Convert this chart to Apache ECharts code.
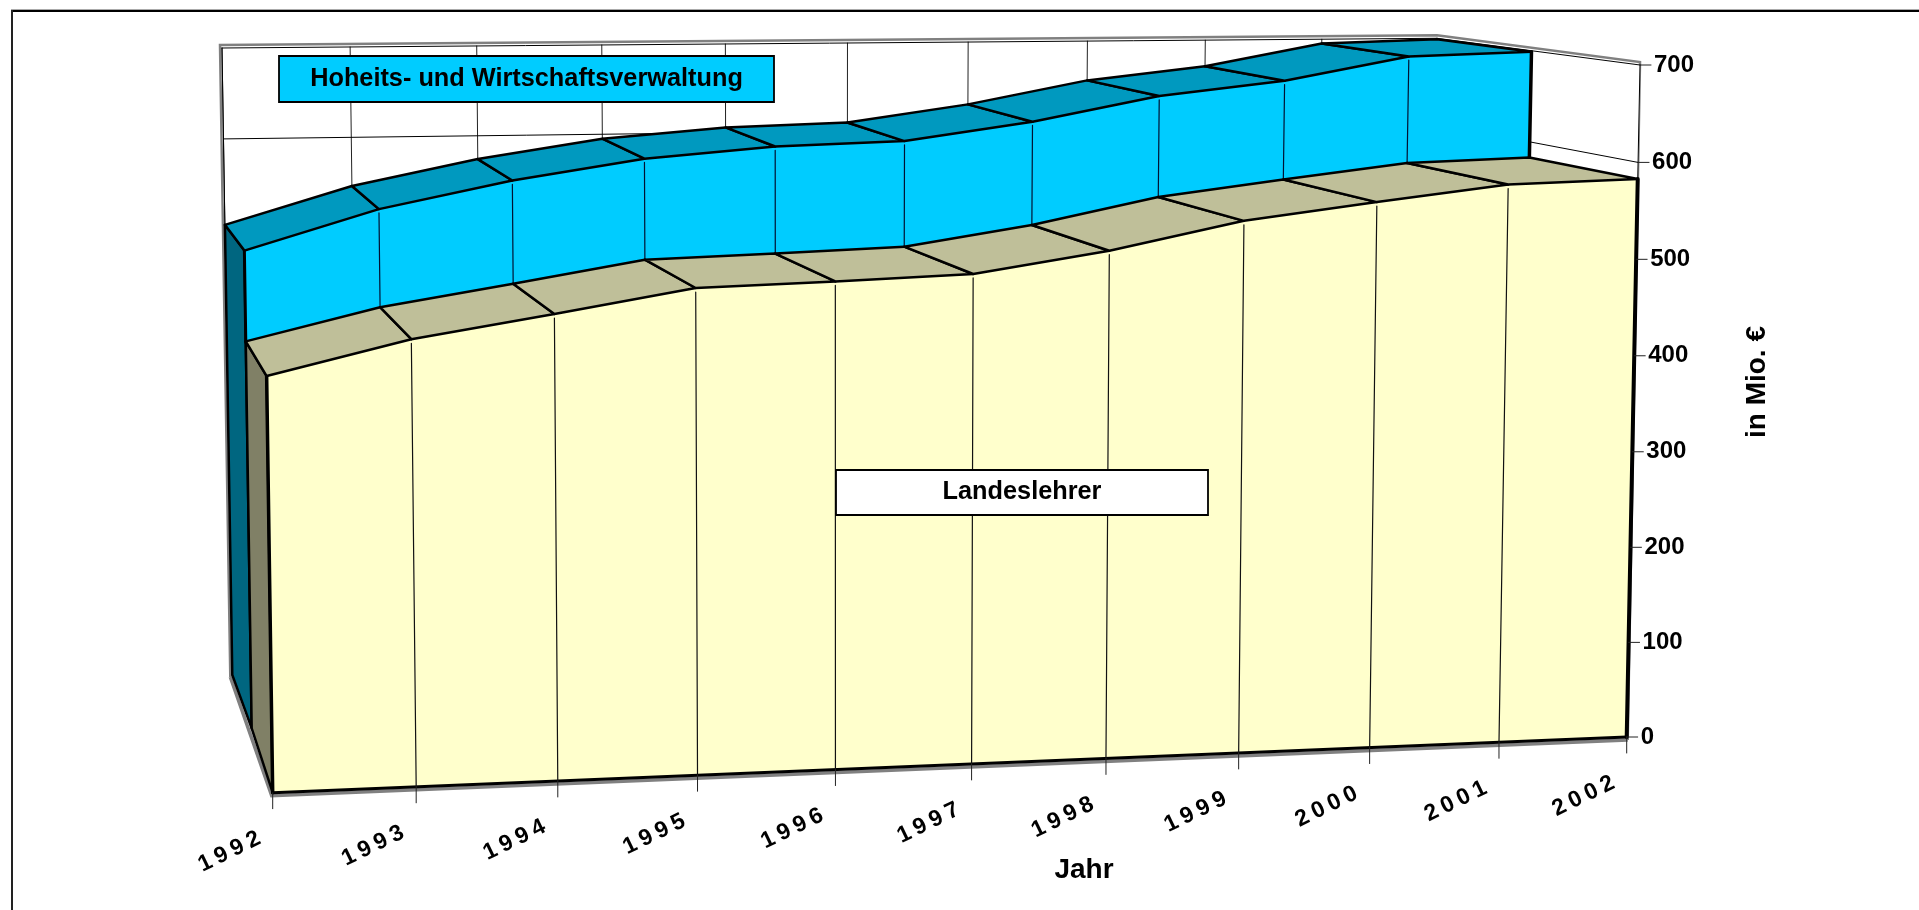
<!DOCTYPE html>
<html><head><meta charset="utf-8">
<style>html,body{margin:0;padding:0;background:#fff}#c{width:1919px;height:910px}</style>
<script src="https://cdn.jsdelivr.net/npm/echarts@6/dist/echarts.min.js"></script>
</head><body><div id="c"></div>
<script>
const years = ['1992','1993','1994','1995','1996','1997','1998','1999','2000','2001','2002'];
const landeslehrer = [410,443,465,488,492,497,518,546,563,579,583];
const hoheits = [95,103,109,107,114,113,111,109,107,116,116];
const valueTicks = [0,100,200,300,400,500,600,700];
const seriesNames = ['Landeslehrer','Hoheits- und Wirtschaftsverwaltung'];
const axisNames = ['Jahr','in Mio. €'];

// perspective of the three depth planes: corners BL, BR, TR, TL of the plot box
const planes = [
  [[272.7,792.7],[1626.7,737],[1640,65],[262.3,76]],
  [[251.7,728.3],[1519,680.6],[1531.5,50.8],[241.5,62.7]],
  [[232.3,675],[1427,630],[1437,38.3],[222,48]]
].map(homography);
function homography(q){
  const [p0,p1,p2,p3]=q;
  const dx1=p1[0]-p2[0],dx2=p3[0]-p2[0],sx=p0[0]-p1[0]+p2[0]-p3[0];
  const dy1=p1[1]-p2[1],dy2=p3[1]-p2[1],sy=p0[1]-p1[1]+p2[1]-p3[1];
  const den=dx1*dy2-dx2*dy1;
  const g=(sx*dy2-dx2*sy)/den,h=(dx1*sy-sx*dy1)/den;
  const a=p1[0]-p0[0]+g*p1[0],b=p3[0]-p0[0]+h*p3[0],c=p0[0];
  const d=p1[1]-p0[1]+g*p1[1],e=p3[1]-p0[1]+h*p3[1],f=p0[1];
  return (u,v)=>{const w=g*u+h*v+1;return [(a*u+b*v+c)/w,(d*u+e*v+f)/w];};
}
// the wide labels of the year axis keep their text; only the glyph spacing widens
const nativeFill = CanvasRenderingContext2D.prototype.fillText;
CanvasRenderingContext2D.prototype.fillText = function(t,x,y,m){
  this.letterSpacing = /^\d{4}$/.test(t) ? '5px' : '0px';
  return m===undefined ? nativeFill.call(this,t,x,y) : nativeFill.call(this,t,x,y,m);
};

const FONT = '"Liberation Sans", Arial, sans-serif';
const C = {blue:'#00CCFF',blueTop:'#0099BF',blueSide:'#006680',yel:'#FFFFCC',yelTop:'#BFBF99',yelSide:'#808066',grey:'#808080'};

function projector(params,api){
  const r=params.coordSys;
  return (i,val,depth)=>{
    const p=api.coord([i,val]);
    return planes[depth]((p[0]-r.x)/r.width,(r.y+r.height-p[1])/r.height);
  };
}
const line=(a,b,w,col)=>({type:'line',shape:{x1:a[0],y1:a[1],x2:b[0],y2:b[1]},style:{stroke:col||'#000',lineWidth:w,lineCap:'round'},silent:true});
const poly=(pts,fill,w)=>({type:'polygon',shape:{points:pts},style:w?{fill,stroke:'#000',lineWidth:w,lineJoin:'round'}:{fill,stroke:fill,lineWidth:.5},silent:true});
const txt=(x,y,t,size,o)=>Object.assign({type:'text',x,y,style:{text:t,font:'bold '+size+'px '+FONT,fill:'#000',align:'center',verticalAlign:'middle'},silent:true},o||{});

function renderWall(params,api){
  const P=projector(params,api), last=years.length-1, kids=[];
  const off=(p,dx,dy)=>[p[0]+dx,p[1]+dy];
  // outer grey frame and the thicker grey floor edge
  kids.push({type:'polyline',shape:{points:[
      off(P(0,0,2),-2,2),off(P(0,700,2),-2,-3),off(P(last,700,2),0,-3),off(P(last,700,0),0,-3),off(P(last,0,0),1,3)]},
    style:{fill:'none',stroke:C.grey,lineWidth:2.5,lineJoin:'miter'},silent:true});
  kids.push({type:'polyline',shape:{points:[off(P(0,0,2),-2,2),off(P(0,0,0),-1,3),off(P(last,0,0),1,3)]},
    style:{fill:'none',stroke:C.grey,lineWidth:3.5,lineJoin:'miter'},silent:true});
  kids.push(poly([P(0,0,2),P(last,0,2),P(last,700,2),P(0,700,2)],'#fff'));
  kids.push(poly([P(last,0,2),P(last,0,0),P(last,700,0),P(last,700,2)],'#fff'));
  years.forEach((y,i)=>kids.push(line(P(i,0,2),P(i,700,2),1,'#222')));
  valueTicks.forEach(v=>{
    kids.push(line(P(0,v,2),P(last,v,2),1,'#000'));
    kids.push(line(P(last,v,2),P(last,v,0),1,'#000'));
  });
  kids.push(line(P(last,0,0),P(last,700,0),1,'#000'));
  kids.push(line(P(0,0,2),P(0,700,2),1,'#000'));
  return {type:'group',children:kids};
}

function renderBlue(params,api){
  const P=projector(params,api), i=api.value(0), kids=[], last=years.length-1;
  const total=k=>landeslehrer[k]+hoheits[k];
  if(i===0){
    kids.push(poly([P(0,0,2),P(0,0,1),P(0,total(0),1),P(0,total(0),2)],C.blueSide,2.5));
    const pts=[]; years.forEach((y,k)=>pts.push(P(k,total(k),1)));
    for(let k=last;k>=0;k--) pts.push(P(k,landeslehrer[k],1));
    kids.push(poly(pts,C.blue));
    kids.push(line(P(0,landeslehrer[0]-1,1),P(0,total(0),1),3));
    kids.push(line(P(last,landeslehrer[last],1),P(last,total(last),1),3.5));
  }
  const tot=landeslehrer[i]+api.value(1);
  if(i>0&&i<last) kids.push(line(P(i,landeslehrer[i],1),P(i,tot-4,1),1.2,'#013'));
  if(i<last){
    kids.push(poly([P(i,tot,1),P(i+1,total(i+1),1),P(i+1,total(i+1),2),P(i,tot,2)],C.blueTop,2.5));
  }
  return {type:'group',children:kids};
}

function renderYellow(params,api){
  const P=projector(params,api), i=api.value(0), kids=[], last=years.length-1;
  const val=api.value(1);
  if(i===0){
    kids.push(poly([P(0,0,1),P(0,0,0),P(0,val,0),P(0,val,1)],C.yelSide,2.5));
    const pts=[P(0,0,0)]; years.forEach((y,k)=>pts.push(P(k,landeslehrer[k],0)));
    pts.push(P(last,0,0));
    kids.push(poly(pts,C.yel));
    kids.push(line(P(0,0,0),P(0,val,0),3.5));
    kids.push(line(P(last,0,0),P(last,landeslehrer[last],0),4));
    kids.push(line(P(0,0,0),P(last,0,0),3));
  }
  if(i>0&&i<last) kids.push(line(P(i,0,0),P(i,val-4,0),1.2,'#111'));
  if(i<last){
    kids.push(poly([P(i,val,0),P(i+1,landeslehrer[i+1],0),P(i+1,landeslehrer[i+1],1),P(i,val,1)],C.yelTop,2.5));
  }
  return {type:'group',children:kids};
}

function renderAxes(params,api){
  const P=projector(params,api), last=years.length-1, kids=[];
  const idx=params.dataIndex;
  if(idx<years.length){
    const b=P(idx,0,0);
    kids.push(line([b[0],b[1]],[b[0],b[1]+16],1,'#222'));
    kids.push(txt(b[0]-41,b[1]+58,years[idx],23,{rotation:26*Math.PI/180}));
  }
  const k=idx-years.length;
  if(k>=0){
    const p=P(last,valueTicks[k],0);
    kids.push(line(p,[p[0]+11,p[1]],1,'#222'));
    kids.push({type:'text',x:p[0]+14,y:p[1],silent:true,style:{text:String(valueTicks[k]),font:'bold 24px '+FONT,fill:'#000',align:'left',verticalAlign:'middle'}});
  }
  return {type:'group',children:kids};
}

const box=(x,y,w,h,fill,text)=>({type:'group',x,y,silent:true,children:[
  {type:'rect',z:50,shape:{x:0,y:0,width:w,height:h},style:{fill,stroke:'#000',lineWidth:1.8}},
  {type:'text',z:51,x:w/2,y:h/2,style:{text,font:'bold 25.3px '+FONT,fill:'#000',align:'center',verticalAlign:'middle'}}
]});

const chart=echarts.init(document.getElementById('c'),null,{renderer:'canvas',width:1919,height:910});
const seq=years.map((y,i)=>i);
chart.setOption({
  animation:false,
  backgroundColor:'#fff',
  grid:{left:0,top:0,right:0,bottom:0,containLabel:false},
  xAxis:{type:'category',data:years,boundaryGap:false,show:false},
  yAxis:{type:'value',min:0,max:700,interval:100,show:false},
  series:[
    {type:'custom',name:'wall',coordinateSystem:'cartesian2d',clip:false,silent:true,renderItem:renderWall,data:[[0,0]],encode:{x:0,y:1},z:1},
    {type:'custom',name:seriesNames[1],coordinateSystem:'cartesian2d',clip:false,silent:true,renderItem:renderBlue,data:seq.map(i=>[i,hoheits[i]]),encode:{x:0,y:1},z:2},
    {type:'custom',name:seriesNames[0],coordinateSystem:'cartesian2d',clip:false,silent:true,renderItem:renderYellow,data:seq.map(i=>[i,landeslehrer[i]]),encode:{x:0,y:1},z:3},
    {type:'custom',name:'axes',coordinateSystem:'cartesian2d',clip:false,silent:true,renderItem:renderAxes,data:seq.concat(valueTicks.map((v,i)=>i+years.length)).map(i=>[0,0,i]),encode:{x:0,y:1},z:4}
  ],
  graphic:{elements:[
    {type:'line',z:0,silent:true,shape:{x1:11,y1:9.5,x2:1919,y2:9.5},style:{stroke:'#aaa',lineWidth:1}},
    {type:'line',z:0,silent:true,shape:{x1:11,y1:11,x2:1919,y2:11},style:{stroke:'#000',lineWidth:2}},
    {type:'line',z:0,silent:true,shape:{x1:12,y1:10,x2:12,y2:910},style:{stroke:'#222',lineWidth:2}},
    box(279,56,495,46,C.blue,seriesNames[1]),
    box(836,470,372,45,'#fff',seriesNames[0]),
    {type:'text',x:1084,y:870,z:50,silent:true,style:{text:axisNames[0],font:'bold 28px '+FONT,fill:'#000',align:'center',verticalAlign:'middle'}},
    {type:'text',x:1757,y:382,z:50,silent:true,rotation:Math.PI/2,style:{text:axisNames[1],font:'bold 28px '+FONT,fill:'#000',align:'center',verticalAlign:'middle'}}
  ]}
});
</script></body></html>
